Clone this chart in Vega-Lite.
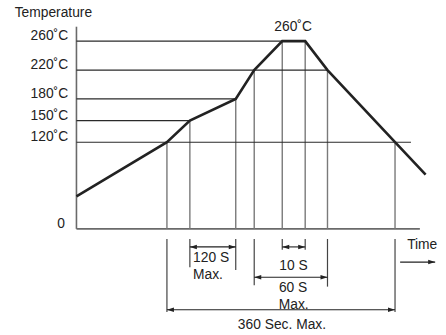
{
  "$schema": "https://vega.github.io/schema/vega-lite/v6.json",
  "width": 446,
  "height": 335,
  "padding": 0,
  "autosize": {"type": "fit", "contains": "padding"},
  "config": {"view": {"stroke": null}, "text": {"font": "Liberation Sans", "fontSize": 13.8, "color": "#222"}},
  "datasets": {
    "curve": [
      {"t": 0, "T": 45}, {"t": 142, "T": 120}, {"t": 178, "T": 150}, {"t": 250, "T": 180},
      {"t": 279, "T": 220}, {"t": 323, "T": 260}, {"t": 359, "T": 260}, {"t": 394, "T": 220},
      {"t": 500, "T": 120}, {"t": 548, "T": 75}
    ],
    "hlines": [
      {"t1": 0, "t2": 323, "T": 260}, {"t1": 0, "t2": 394, "T": 220}, {"t1": 0, "t2": 250, "T": 180},
      {"t1": 0, "t2": 178, "T": 150}, {"t1": 0, "t2": 525, "T": 120}
    ],
    "vlines": [
      {"t": 142, "T0": 0, "T": 120}, {"t": 178, "T0": 0, "T": 150}, {"t": 250, "T0": 0, "T": 180}, {"t": 279, "T0": 0, "T": 220},
      {"t": 323, "T0": 0, "T": 260}, {"t": 359, "T0": 0, "T": 260}, {"t": 394, "T0": 0, "T": 220}, {"t": 500, "T0": 0, "T": 120}
    ],
    "axes": [
      {"t1": 0, "t2": 0, "T1": 0, "T2": 280},
      {"t1": 0, "t2": 539, "T1": 0, "T2": 0}
    ],
    "ext": [
      {"t": 142, "T1": -14, "T2": -115}, {"t": 178, "T1": -14, "T2": -53}, {"t": 250, "T1": -14, "T2": -57},
      {"t": 279, "T1": -14, "T2": -78}, {"t": 323, "T1": -14, "T2": -29}, {"t": 359, "T1": -14, "T2": -29},
      {"t": 394, "T1": -14, "T2": -80}, {"t": 500, "T1": -14, "T2": -115}
    ],
    "dims": [
      {"name": "120 S", "t1": 178, "t2": 250, "T": -25},
      {"name": "10 S", "t1": 323, "t2": 359, "T": -25},
      {"name": "60 S", "t1": 279, "t2": 394, "T": -67},
      {"name": "360 Sec", "t1": 142, "t2": 500, "T": -112},
      {"name": "Time", "t1": 508, "t2": 563, "T": -46}
    ],
    "leftHeads": [
      {"t": 178, "T": -25}, {"t": 323, "T": -25}, {"t": 279, "T": -67}, {"t": 142, "T": -112}
    ],
    "rightHeads": [
      {"t": 250, "T": -25}, {"t": 359, "T": -25}, {"t": 394, "T": -67}, {"t": 500, "T": -112}, {"t": 563, "T": -46}
    ],
    "textLeft": [
      {"label": "Temperature", "t": -97, "T": 299},
      {"label": "120 S", "t": 183, "T": -40},
      {"label": "Max.", "t": 183, "T": -64},
      {"label": "Time", "t": 519, "T": -22}
    ],
    "textCenter": [
      {"label": "260˚C", "t": 340, "T": 280},
      {"label": "10 S", "t": 340.6, "T": -51},
      {"label": "60 S", "t": 340, "T": -82},
      {"label": "Max.", "t": 341, "T": -105},
      {"label": "360 Sec. Max.", "t": 322.5, "T": -133}
    ],
    "yLabels": [
      {"label": "260˚C", "t": -13, "T": 260},
      {"label": "220˚C", "t": -13, "T": 220},
      {"label": "180˚C", "t": -13, "T": 180},
      {"label": "150˚C", "t": -13, "T": 150},
      {"label": "120˚C", "t": -13, "T": 120},
      {"label": "0", "t": -18, "T": 0}
    ]
  },
  "layer": [
    {
      "data": {"name": "axes"},
      "mark": {"type": "rule", "color": "#6a6a6a", "strokeWidth": 1.6},
      "encoding": {
        "x": {"field": "t1", "type": "quantitative", "scale": {"domain": [-120, 580], "nice": false, "zero": false}, "axis": null},
        "x2": {"field": "t2"},
        "y": {"field": "T1", "type": "quantitative", "scale": {"domain": [-147, 317], "nice": false, "zero": false}, "axis": null},
        "y2": {"field": "T2"}
      }
    },
    {
      "data": {"name": "vlines"},
      "mark": {"type": "rule", "color": "#7a7a7a", "strokeWidth": 1.4},
      "encoding": {
        "x": {"field": "t", "type": "quantitative"},
        "y": {"field": "T0", "type": "quantitative"},
        "y2": {"field": "T"}
      }
    },
    {
      "data": {"name": "hlines"},
      "mark": {"type": "rule", "color": "#2a2a2a", "strokeWidth": 1.2},
      "encoding": {
        "x": {"field": "t1", "type": "quantitative"},
        "x2": {"field": "t2"},
        "y": {"field": "T", "type": "quantitative"}
      }
    },
    {
      "data": {"name": "ext"},
      "mark": {"type": "rule", "color": "#444", "strokeWidth": 1.2},
      "encoding": {
        "x": {"field": "t", "type": "quantitative"},
        "y": {"field": "T1", "type": "quantitative"},
        "y2": {"field": "T2"}
      }
    },
    {
      "data": {"name": "dims"},
      "mark": {"type": "rule", "color": "#222", "strokeWidth": 1.1},
      "encoding": {
        "x": {"field": "t1", "type": "quantitative"},
        "x2": {"field": "t2"},
        "y": {"field": "T", "type": "quantitative"}
      }
    },
    {
      "data": {"name": "leftHeads"},
      "mark": {"type": "point", "shape": "M0,0L1,-0.32L1,0.32Z", "filled": true, "color": "#222", "opacity": 1, "size": 196, "strokeWidth": 0},
      "encoding": {
        "x": {"field": "t", "type": "quantitative"},
        "y": {"field": "T", "type": "quantitative"}
      }
    },
    {
      "data": {"name": "rightHeads"},
      "mark": {"type": "point", "shape": "M0,0L-1,-0.32L-1,0.32Z", "filled": true, "color": "#222", "opacity": 1, "size": 196, "strokeWidth": 0},
      "encoding": {
        "x": {"field": "t", "type": "quantitative"},
        "y": {"field": "T", "type": "quantitative"}
      }
    },
    {
      "data": {"name": "curve"},
      "mark": {"type": "line", "color": "#222", "strokeWidth": 2.6, "strokeJoin": "miter"},
      "encoding": {
        "x": {"field": "t", "type": "quantitative"},
        "y": {"field": "T", "type": "quantitative"}
      }
    },
    {
      "data": {"name": "textLeft"},
      "mark": {"type": "text", "align": "left", "baseline": "middle"},
      "encoding": {
        "x": {"field": "t", "type": "quantitative"},
        "y": {"field": "T", "type": "quantitative"},
        "text": {"field": "label"}
      }
    },
    {
      "data": {"name": "textCenter"},
      "mark": {"type": "text", "align": "center", "baseline": "middle"},
      "encoding": {
        "x": {"field": "t", "type": "quantitative"},
        "y": {"field": "T", "type": "quantitative"},
        "text": {"field": "label"}
      }
    },
    {
      "data": {"name": "yLabels"},
      "mark": {"type": "text", "align": "right", "baseline": "middle", "dy": -5},
      "encoding": {
        "x": {"field": "t", "type": "quantitative"},
        "y": {"field": "T", "type": "quantitative"},
        "text": {"field": "label"}
      }
    }
  ]
}
